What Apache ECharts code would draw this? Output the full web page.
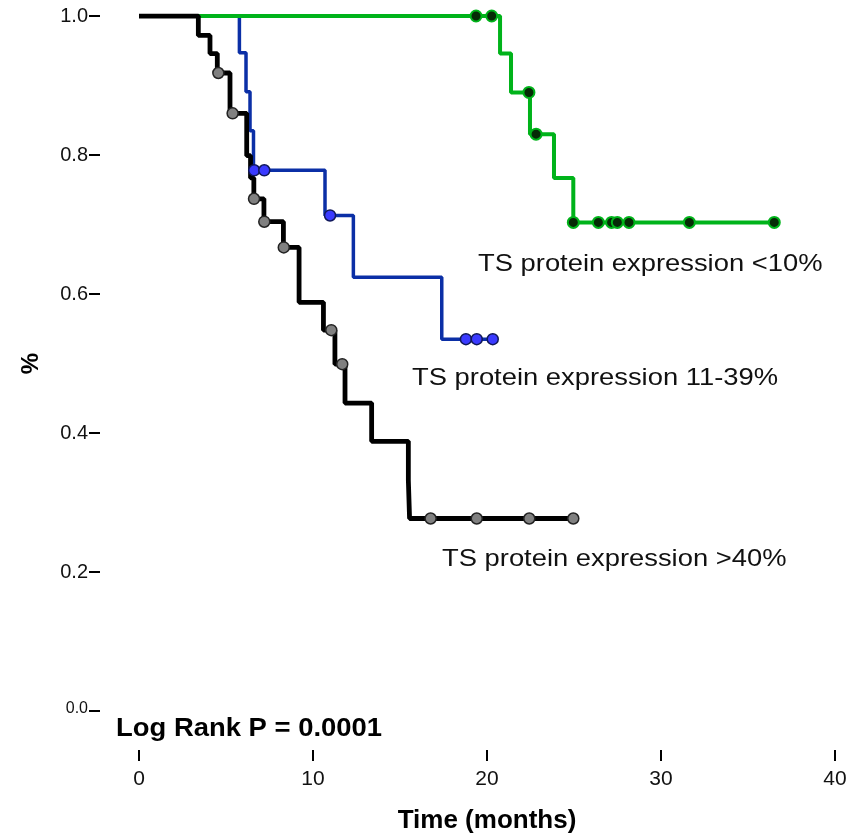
<!DOCTYPE html>
<html>
<head>
<meta charset="utf-8">
<script src="https://cdn.jsdelivr.net/npm/echarts@6/dist/echarts.min.js"></script>
<style>
  html, body { margin: 0; padding: 0; background: #fff; }
  #chart { width: 848px; height: 835px; }
</style>
</head>
<body>
<div id="chart"></div>
<script>
// Kaplan-Meier steps: [time in months, survival]
var lowSteps = [[0, 1], [20.75, 0.946], [21.38, 0.890], [22.47, 0.830], [23.85, 0.767], [24.96, 0.703], [36.51, 0.703]];
var lowCensor = [[19.37, 1], [20.27, 1], [22.41, 0.890], [22.82, 0.830], [24.96, 0.703], [26.4, 0.703], [27.16, 0.703],
  [27.49, 0.703], [28.16, 0.703], [31.63, 0.703], [36.51, 0.703]];

var midSteps = [[0, 1], [5.77, 0.947], [6.15, 0.891], [6.38, 0.835], [6.58, 0.778], [10.69, 0.713], [12.32, 0.624],
  [17.4, 0.535], [20.33, 0.535]];
var midCensor = [[6.62, 0.778], [7.2, 0.778], [10.98, 0.713], [18.79, 0.535], [19.41, 0.535], [20.33, 0.535]];

var highSteps = [[0, 1], [3.41, 0.972], [4.08, 0.946], [4.5, 0.918], [5.23, 0.860], [6.19, 0.799], [6.41, 0.767],
  [6.6, 0.737], [7.18, 0.704], [8.3, 0.667], [9.2, 0.588], [10.6, 0.548], [11.26, 0.499], [11.84, 0.443],
  [13.37, 0.388], [15.48, 0.332], [15.55, 0.277], [24.96, 0.277]];
var highCensor = [[4.56, 0.918], [5.38, 0.860], [6.61, 0.737], [7.2, 0.704], [8.32, 0.667], [11.05, 0.548],
  [11.68, 0.499], [16.76, 0.277], [19.41, 0.277], [22.43, 0.277], [24.96, 0.277]];

var xTicks = [0, 10, 20, 30, 40];
var yTicks = [0, 0.2, 0.4, 0.6, 0.8, 1.0];

var groupNames = ['TS protein expression <10%', 'TS protein expression 11-39%', 'TS protein expression >40%'];
var pValueText = 'Log Rank P = 0.0001';

var chart = echarts.init(document.getElementById('chart'));

function label(txt, x, y) {
  return {
    type: 'text', left: x, top: y, scaleX: 1.14, originX: 0,
    style: { text: txt, fill: '#111', fontSize: 24, fontFamily: 'Liberation Sans, Arial, sans-serif' }
  };
}

var option = {
  backgroundColor: '#fff',
  animation: false,
  grid: { left: 139, right: 13, top: 16, bottom: 124, outerBoundsMode: 'none', containLabel: false },
  xAxis: {
    type: 'value', min: xTicks[0], max: xTicks[xTicks.length - 1], interval: 10,
    offset: 39,  // axis detached below the plot (SPSS style)
    name: 'Time (months)', nameLocation: 'middle', nameGap: 58,
    nameTextStyle: { fontSize: 26, fontWeight: 'bold', color: '#000', fontFamily: 'Liberation Sans Narrow, Arial Narrow, sans-serif' },
    axisLine: { show: false, onZero: false },
    axisTick: { show: true, length: 11, lineStyle: { color: '#000', width: 2 } },
    axisLabel: { margin: 19, fontSize: 21, color: '#111', fontFamily: 'Liberation Sans Narrow, Arial Narrow, sans-serif' },
    splitLine: { show: false }
  },
  yAxis: {
    type: 'value', min: yTicks[0], max: yTicks[yTicks.length - 1], interval: 0.2,
    offset: 39,
    name: '%', nameLocation: 'middle', nameGap: 57, nameRotate: 90,
    nameTextStyle: { fontSize: 24, fontWeight: 'bold', color: '#000', fontFamily: 'Liberation Sans, Arial, sans-serif' },
    axisLine: { show: false, onZero: false },
    axisTick: { show: true, length: 11, lineStyle: { color: '#000', width: 2 } },
    axisLabel: {
      margin: 12, fontSize: 20, color: '#111', fontFamily: 'Liberation Sans, Arial, sans-serif',
      formatter: function (v) {
        // the bottom label is printed smaller in the original
        return v === 0 ? '{small|0.0}' : v.toFixed(1);
      },
      rich: { small: { fontSize: 16, color: '#111', fontFamily: 'Liberation Sans, Arial, sans-serif', padding: [0, 0, 4, 0] } }
    },
    splitLine: { show: false }
  },
  graphic: [
    label(groupNames[0], 478, 252),
    label(groupNames[1], 412, 366),
    label(groupNames[2], 442, 547),
    {
      type: 'text', left: 116, top: 716, scaleX: 1.055, originX: 0,
      style: { text: pValueText, fill: '#000', fontSize: 26, fontWeight: 'bold', fontFamily: 'Liberation Sans Narrow, Arial Narrow, sans-serif' }
    }
  ],
  series: [
    { type: 'line', data: midSteps, step: 'end', symbol: 'none', z: 2,
      lineStyle: { color: '#0b2fa6', width: 3.5 } },
    { type: 'line', data: lowSteps, step: 'end', symbol: 'none', z: 3,
      lineStyle: { color: '#00b31a', width: 4 } },
    { type: 'line', data: highSteps, step: 'end', symbol: 'none', z: 4,
      lineStyle: { color: '#000', width: 4.8 } },
    { type: 'scatter', data: lowCensor, symbolSize: 11, z: 5,
      itemStyle: { color: '#062a06', borderColor: '#00b31a', borderWidth: 2, opacity: 1 } },
    { type: 'scatter', data: midCensor, symbolSize: 11, z: 5,
      itemStyle: { color: '#3a3aff', borderColor: '#10185a', borderWidth: 1.5, opacity: 1 } },
    { type: 'scatter', data: highCensor, symbolSize: 11, z: 6,
      itemStyle: { color: '#808080', borderColor: '#222', borderWidth: 1.5, opacity: 1 } }
  ]
};

chart.setOption(option);
</script>
</body>
</html>
